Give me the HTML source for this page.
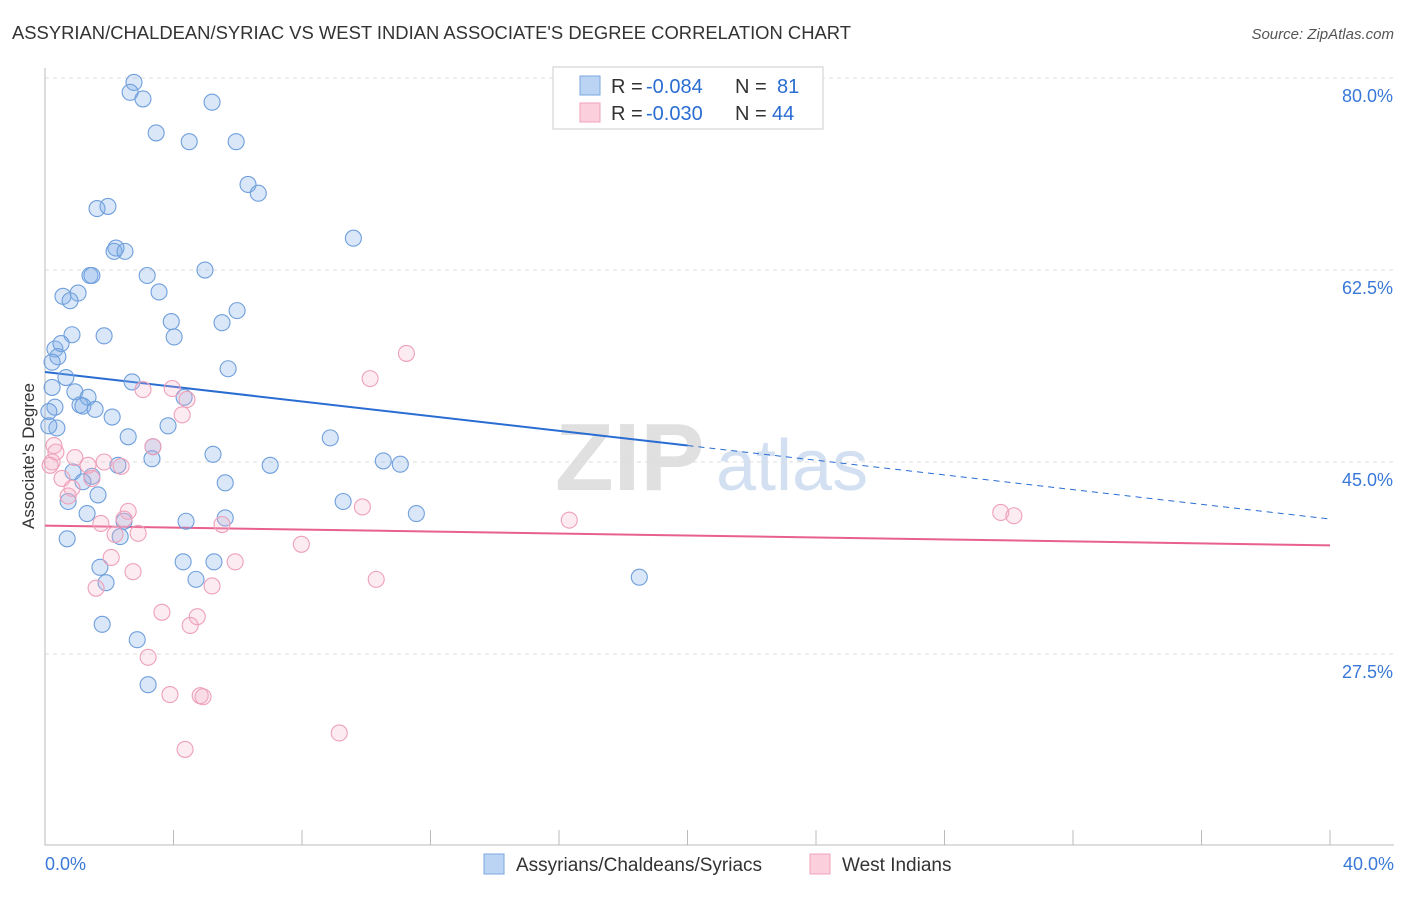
<!DOCTYPE html>
<html><head><meta charset="utf-8"><style>
body{margin:0;background:#fff;font-family:"Liberation Sans",sans-serif;}
svg text{font-family:"Liberation Sans",sans-serif;}
</style></head><body>
<svg width="1406" height="892" xmlns="http://www.w3.org/2000/svg" id="chart">
<text x="12" y="39" font-size="18" fill="#333" textLength="839" lengthAdjust="spacingAndGlyphs">ASSYRIAN/CHALDEAN/SYRIAC VS WEST INDIAN ASSOCIATE'S DEGREE CORRELATION CHART</text>
<text x="1394" y="39" font-size="15" fill="#555" text-anchor="end" font-style="italic">Source: ZipAtlas.com</text>
<text x="555" y="490" font-size="96" fill="#e0e0e0" font-family="Liberation Serif" font-weight="bold">ZIP</text>
<text x="716" y="490" font-size="72" fill="#d3e0f2">atlas</text>
<g id="grid"></g><g id="axes"></g><g id="trend"></g><g id="pts"></g>
<text transform="translate(34,456) rotate(-90)" font-size="17" fill="#333" text-anchor="middle">Associate's Degree</text>
<g>
<rect x="553" y="67" width="270" height="62" fill="#fff" stroke="#ccc"/>
<rect x="580" y="76" width="20" height="19" fill="#bcd4f4" stroke="#7aa7e0"/>
<rect x="580" y="103" width="20" height="19" fill="#fbd0dc" stroke="#f0a0ba"/>
<text x="611" y="93" font-size="20" fill="#333">R =</text>
<text x="646" y="93" font-size="20" fill="#2a6dd2">-0.084</text>
<text x="735" y="93" font-size="20" fill="#333">N =</text>
<text x="777" y="93" font-size="20" fill="#2a6dd2">81</text>
<text x="611" y="120" font-size="20" fill="#333">R =</text>
<text x="646" y="120" font-size="20" fill="#2a6dd2">-0.030</text>
<text x="735" y="120" font-size="20" fill="#333">N =</text>
<text x="772" y="120" font-size="20" fill="#2a6dd2">44</text>
</g>
<g>
<rect x="484" y="854" width="20" height="20" fill="#bcd4f4" stroke="#7aa7e0"/>
<text x="516" y="871" font-size="19" fill="#333">Assyrians/Chaldeans/Syriacs</text>
<rect x="810" y="854" width="20" height="20" fill="#fbd0dc" stroke="#f0a0ba"/>
<text x="842" y="871" font-size="19" fill="#333">West Indians</text>
</g>
</svg>
<script>
const blueX=[2.77,2.65,3.05,5.20,3.46,4.49,5.95,6.32,6.64,1.62,1.96,9.60,2.21,2.15,2.49,1.40,1.46,3.18,4.98,0.56,1.03,0.78,3.55,5.98,3.93,5.51,0.84,1.84,4.02,0.31,0.50,0.40,0.22,5.70,0.65,2.71,0.22,0.93,1.34,4.33,0.31,1.09,1.18,1.56,0.12,2.09,0.37,0.12,3.83,2.59,8.88,3.36,3.33,5.23,0.87,1.46,2.27,7.01,10.53,11.06,5.61,1.18,1.65,0.72,9.28,1.31,2.46,4.39,5.61,11.56,2.34,0.69,4.30,5.26,1.71,4.70,1.90,18.50,1.78,2.87,3.21];
const blueY=[79.6,78.7,78.1,77.8,75.0,74.2,74.2,70.3,69.5,68.1,68.3,65.4,64.5,64.2,64.2,62.0,62.0,62.0,62.5,60.1,60.4,59.7,60.5,58.8,57.8,57.7,56.6,56.5,56.4,55.3,55.8,54.6,54.1,53.5,52.7,52.3,51.8,51.4,50.9,50.9,50.0,50.2,50.1,49.8,49.6,49.1,48.1,48.3,48.3,47.3,47.2,46.4,45.3,45.7,44.1,43.7,44.7,44.7,45.1,44.8,43.1,43.2,42.0,41.4,41.4,40.3,39.6,39.6,39.9,40.3,38.2,38.0,35.9,35.9,35.4,34.3,34.0,34.5,30.2,28.8,24.7];
const pinkX=[11.25,10.12,3.96,4.42,4.27,3.05,0.28,0.34,0.22,0.16,0.93,1.34,1.84,2.37,3.36,0.53,1.46,0.84,0.72,2.59,2.46,1.74,5.51,2.18,2.90,9.88,16.32,29.75,30.16,7.98,2.06,5.92,2.74,10.31,1.59,5.20,3.64,4.74,4.52,3.21,3.89,4.83,4.92,9.16,4.36];
const pinkY=[54.9,52.6,51.7,50.7,49.3,51.6,46.5,45.9,45.0,44.7,45.4,44.7,45.0,44.6,46.4,43.5,43.5,42.6,41.9,40.5,39.8,39.4,39.3,38.4,38.5,40.9,39.7,40.4,40.1,37.5,36.3,35.9,35.0,34.3,33.5,33.7,31.3,30.9,30.1,27.2,23.8,23.7,23.6,20.3,18.8];
const blueTrend=[53.2,39.8];
const pinkTrend=[39.2,37.4];
const yTicks=[80,62.5,45,27.5];
const yTickLabels=["80.0%","62.5%","45.0%","27.5%"];
const xTicks=[0,4,8,12,16,20,24,28,32,36,40];
const NS="http://www.w3.org/2000/svg";
const X=v=>45+v*32.125, Y=v=>462-(v-45)*10.97;
function mk(p,t,a){const e=document.createElementNS(NS,t);for(const k in a)e.setAttribute(k,a[k]);document.getElementById(p).appendChild(e);return e;}
yTicks.forEach((t,i)=>{
 const l=mk('grid','line',{x1:45,x2:1394,y1:Y(t),y2:Y(t),stroke:'#ddd','stroke-dasharray':'4,4'});
 
 
 const tx=mk('grid','text',{x:1393,y:Y(t)+24,'font-size':18,fill:'#3a78d8','text-anchor':'end'});
 tx.textContent=yTickLabels[i];
 
 
});
const ax=mk('axes','path',{d:'M45,68 V845 H1394',stroke:'#bbb',fill:'none'});


xTicks.forEach(t=>{
 const l=mk('axes','line',{x1:X(t),x2:X(t),y1:830,y2:845,stroke:'#bbb'});
 
 
});
[[0,"0.0%",'start',45],[40,"40.0%",'end',1394]].forEach(d=>{
 const tx=mk('axes','text',{x:d[3],y:870,'font-size':18,fill:'#3a78d8','text-anchor':d[2]});
 tx.textContent=d[1];
 
 
});
const bv=x=>blueTrend[0]+(blueTrend[1]-blueTrend[0])*x/40;
let t1=mk('trend','line',{x1:X(0),y1:Y(bv(0)),x2:X(20),y2:Y(bv(20)),stroke:'#2a6dd2','stroke-width':2});


let t2=mk('trend','line',{x1:X(20),y1:Y(bv(20)),x2:X(40),y2:Y(bv(40)),stroke:'#2a6dd2','stroke-width':1,'stroke-dasharray':'6,5'});


let t3=mk('trend','line',{x1:X(0),y1:Y(pinkTrend[0]),x2:X(40),y2:Y(pinkTrend[1]),stroke:'#e8608c','stroke-width':2});


blueX.forEach((x,i)=>{
 const c=mk('pts','circle',{cx:X(x),cy:Y(blueY[i]),r:8,fill:'rgba(130,175,232,0.3)',stroke:'#6f9fdc','stroke-width':1.1});
 
 
});
pinkX.forEach((x,i)=>{
 const c=mk('pts','circle',{cx:X(x),cy:Y(pinkY[i]),r:8,fill:'rgba(245,175,198,0.25)',stroke:'#eea0b9','stroke-width':1.1});
 
 
});
</script>
</body></html>
